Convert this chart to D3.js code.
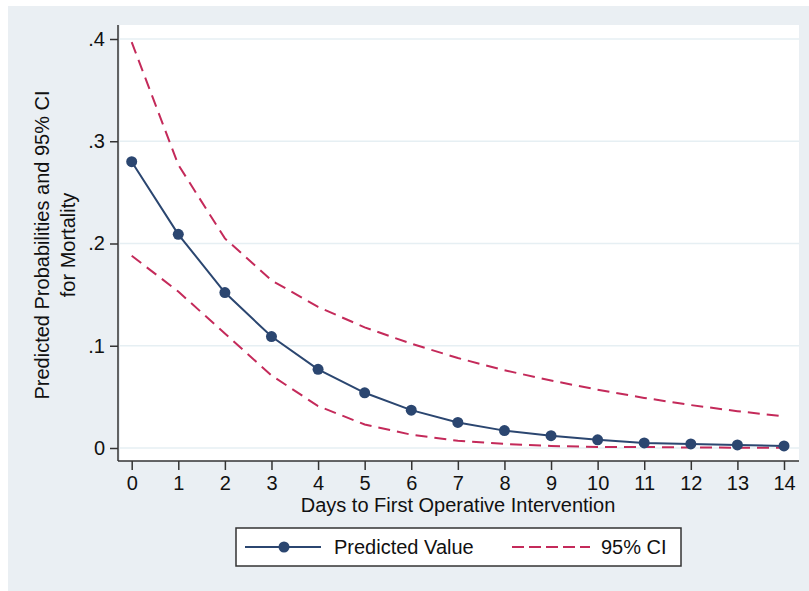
<!DOCTYPE html>
<html>
<head>
<meta charset="utf-8">
<script src="https://cdn.jsdelivr.net/npm/d3@7"></script>
<style>
  body { margin: 0; background: #fff; }
  svg { display: block; font-family: "Liberation Sans", Arial, sans-serif; }
</style>
</head>
<body>
<svg id="chart" width="809" height="591"></svg>
<script>
// data
const days = [0, 1, 2, 3, 4, 5, 6, 7, 8, 9, 10, 11, 12, 13, 14];
const predicted = [.280, .209, .152, .109, .077, .054, .037, .025, .017, .012, .008, .005, .004, .003, .002];
const upperCI = [.397, .277, .205, .164, .138, .118, .102, .088, .076, .066, .057, .049, .042, .036, .031];
const lowerCI = [.188, .153, .112, .071, .041, .023, .013, .007, .004, .002, .001, .001, .0005, .0003, .0002];
const yTicks = [0, .1, .2, .3, .4];
const yTickLabels = ["0", ".1", ".2", ".3", ".4"];

const navy = "#2b4670";
const red = "#c42a5a";
const bg = "#eaeff3";
const fs = 20;

const svg = d3.select("#chart");

// outer graph region
svg.append("rect")
    .attr("x", 8).attr("y", 6)
    .attr("width", 801).attr("height", 585)
    .attr("fill", bg);

// plot region
const plot = { left: 120, top: 25, right: 799, bottom: 461 };

svg.append("rect")
    .attr("x", plot.left).attr("y", plot.top)
    .attr("width", plot.right - plot.left).attr("height", plot.bottom - plot.top)
    .attr("fill", "#fff");

const x = d3.scaleLinear().domain([0, 14]).range([131.7, 784]);
const y = d3.scaleLinear().domain([0, .4]).range([448, 39]);

// grid lines
svg.append("g")
  .selectAll("line")
  .data(yTicks)
  .join("line")
    .attr("x1", plot.left).attr("x2", plot.right)
    .attr("y1", d => y(d)).attr("y2", d => y(d))
    .attr("stroke", "#e6eff3")
    .attr("stroke-width", 1.5);

// y axis
const yAxis = svg.append("g")
    .attr("transform", `translate(${plot.left - 2},0)`)
    .call(d3.axisLeft(y).tickValues(yTicks).tickFormat((d, i) => yTickLabels[i]).tickSize(8).tickPadding(5));
yAxis.select(".domain").attr("d", `M0,${plot.top}V${plot.bottom}`);

// x axis
const xAxis = svg.append("g")
    .attr("transform", `translate(0,${plot.bottom})`)
    .call(d3.axisBottom(x).tickValues(days).tickSize(9).tickPadding(6));
xAxis.select(".domain").attr("d", `M${plot.left - 2},0H${plot.right}`);

svg.selectAll(".tick text")
    .attr("font-size", fs)
    .attr("fill", "#111")
    .attr("font-family", "Liberation Sans, Arial, sans-serif");
svg.selectAll(".tick line, .domain")
    .attr("stroke", "#333")
    .attr("stroke-width", 1.5);

// axis titles
svg.append("text")
    .attr("x", 458).attr("y", 512)
    .attr("text-anchor", "middle")
    .attr("font-size", fs)
    .attr("fill", "#111")
    .text("Days to First Operative Intervention");

const yTitle = svg.append("text")
    .attr("transform", "translate(49,245) rotate(-90)")
    .attr("text-anchor", "middle")
    .attr("font-size", fs)
    .attr("fill", "#111");
yTitle.append("tspan").attr("x", 0).attr("dy", 0).text("Predicted Probabilities and 95% CI");
yTitle.append("tspan").attr("x", 0).attr("dy", 26).text("for Mortality");

// lines
const line = (vals) => d3.line()
    .x((d, i) => x(days[i]))
    .y(d => y(d))(vals);

[upperCI, lowerCI].forEach(vals => {
  svg.append("path")
      .attr("d", line(vals))
      .attr("fill", "none")
      .attr("stroke", red)
      .attr("stroke-width", 2)
      .attr("stroke-dasharray", "12,7");
});

svg.append("path")
    .attr("d", line(predicted))
    .attr("fill", "none")
    .attr("stroke", navy)
    .attr("stroke-width", 2);

svg.append("g")
  .selectAll("circle")
  .data(predicted)
  .join("circle")
    .attr("cx", (d, i) => x(days[i]))
    .attr("cy", d => y(d))
    .attr("r", 5.5)
    .attr("fill", navy);

// legend
const legend = svg.append("g");
legend.append("rect")
    .attr("x", 236).attr("y", 528)
    .attr("width", 445).attr("height", 38)
    .attr("fill", "#fff")
    .attr("stroke", "#333")
    .attr("stroke-width", 1.5);

legend.append("line")
    .attr("x1", 245).attr("x2", 321)
    .attr("y1", 547).attr("y2", 547)
    .attr("stroke", navy).attr("stroke-width", 2);
legend.append("circle")
    .attr("cx", 284).attr("cy", 547).attr("r", 5.5)
    .attr("fill", navy);
legend.append("text")
    .attr("x", 334).attr("y", 554)
    .attr("font-size", fs).attr("fill", "#111")
    .text("Predicted Value");

legend.append("line")
    .attr("x1", 512).attr("x2", 590)
    .attr("y1", 547).attr("y2", 547)
    .attr("stroke", red).attr("stroke-width", 2)
    .attr("stroke-dasharray", "12,5");
legend.append("text")
    .attr("x", 601).attr("y", 554)
    .attr("font-size", fs).attr("fill", "#111")
    .text("95% CI");
</script>
</body>
</html>
